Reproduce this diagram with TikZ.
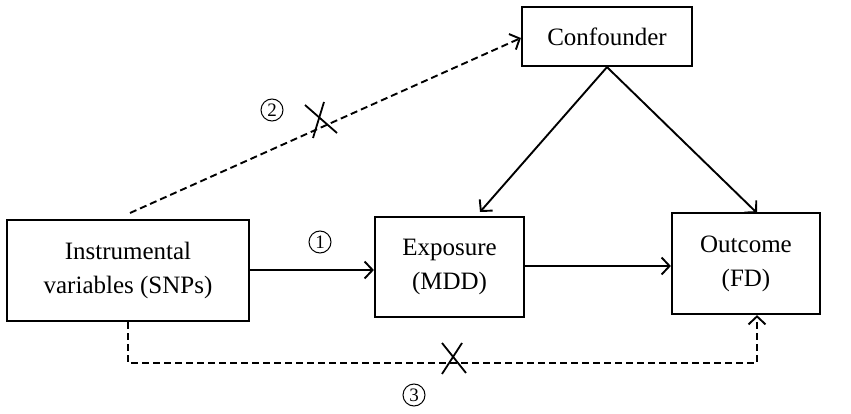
\documentclass[tikz,border=0pt]{standalone}
\usepackage{fontspec}
\setmainfont{Liberation Serif}
\usetikzlibrary{arrows.meta,calc}
\begin{document}
\begin{tikzpicture}[x=1pt,y=-1pt,
  box/.style={draw,line width=2.2pt,inner sep=0pt,align=center,font=\fontsize{25}{34}\selectfont},
  arr/.style={line width=1.9pt,-{Straight Barb[length=8pt,width=17pt,line width=1.9pt]}},
  dsh/.style={arr,dash pattern=on 7pt off 4pt},
  crs/.style={line width=1.8pt},
  num/.style={circle,draw,line width=1pt,minimum size=22pt,inner sep=0pt,font=\fontsize{19}{19}\selectfont}]
\useasboundingbox (0,0) rectangle (851,414);
\node[box,minimum width=242pt,minimum height=101pt] (iv) at (128,270.5) {Instrumental\\variables (SNPs)};
\node[box,minimum width=149pt,minimum height=100pt] (exp) at (449.5,267) {Exposure\\(MDD)};
\node[box,minimum width=148pt,minimum height=101pt] (out) at (746,263.5) {Outcome\\(FD)};
\node[box,minimum width=170pt,minimum height=59pt] (con) at (607,36.5) {Confounder};
% solid arrows
\draw[arr] (iv.east |- 0,270) -- (exp.west |- 0,270);
\draw[arr] (exp.east |- 0,266) -- (out.west |- 0,266);
\draw[arr] (con.south) -- (480,212);
\draw[arr] (con.south) -- (757,213);
% dashed path 2
\coordinate (s2) at (130,213);
\draw[dsh] (s2) -- (con.west |- 0,38);
\draw[crs] (305,105) -- (337,133);
\draw[crs] (324,102) -- (313,138);
\node[num] (n2) at (272,110) {2};
% dashed path 3
\coordinate (b3) at (128,363);
\coordinate (c3) at (757,363);
\draw[dsh] (iv.south) -- (b3) -- (c3) -- (out.south -| c3);
\draw[crs] (442,343) -- (466,373);
\draw[crs] (462,343) -- (442,374);
\node[num] (n3) at (414,395) {3};
\node[num] (n1) at (320,242) {1};
\end{tikzpicture}
\end{document}
